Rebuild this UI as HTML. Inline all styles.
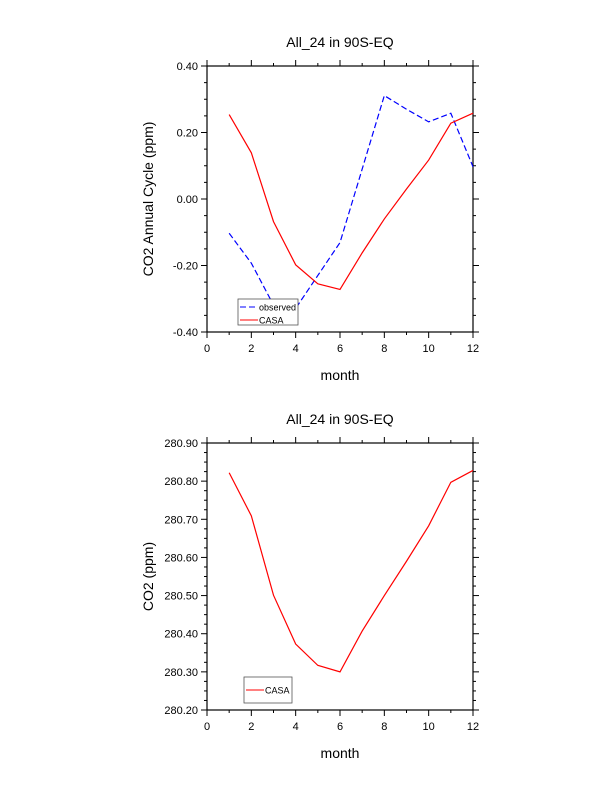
<!DOCTYPE html>
<html><head><meta charset="utf-8"><style>
body{margin:0;background:#fff}
svg{display:block;font-family:"Liberation Sans",Arial,sans-serif}
</style></head><body>
<svg id="s" width="612" height="792" xmlns="http://www.w3.org/2000/svg"></svg>
<script>
const months=[1,2,3,4,5,6,7,8,9,10,11,12];
const observed=[-0.103,-0.193,-0.319,-0.329,-0.23,-0.131,0.09,0.311,0.27,0.232,0.258,0.097];
const casaCycle=[0.254,0.139,-0.068,-0.198,-0.255,-0.272,-0.162,-0.06,0.03,0.117,0.228,0.258];
const casaCO2=[280.822,280.709,280.501,280.373,280.317,280.300,280.407,280.50,280.59,280.683,280.797,280.828];
const xTicks=[0,2,4,6,8,10,12];
const yTicks1=[-0.4,-0.2,0,0.2,0.4];
const yTicks2=[280.2,280.3,280.4,280.5,280.6,280.7,280.8,280.9];
const NS="http://www.w3.org/2000/svg";
const svg=document.getElementById('s');
function mk(t,a,p){const e=document.createElementNS(NS,t);for(const k in a)e.setAttribute(k,a[k]);(p||svg).appendChild(e);return e;}
function panel(name,top,bot,ymin,ymax,yTicks,yMinorStep,fmt,ytitle,series,legend){
  const g=mk('g',{});
  
  
  const L=207,R=473;
  const xs=v=>L+(R-L)*v/12, ys=v=>bot-(bot-top)*(v-ymin)/(ymax-ymin);
  // minor ticks
  for(let m=0;m<=12;m++){const x=xs(m);const len=m%2?3:6;
    mk('line',{x1:x,y1:bot,x2:x,y2:bot+len,stroke:'#000','stroke-width':1},g);
    mk('line',{x1:x,y1:top,x2:x,y2:top-len,stroke:'#000','stroke-width':1},g);}
  const n=Math.round((ymax-ymin)/yMinorStep);
  for(let i=0;i<=n;i++){const v=ymin+i*yMinorStep,y=ys(v);
    const major=yTicks.some(t=>Math.abs(t-v)<1e-6);const len=major?6:3;
    mk('line',{x1:L,y1:y,x2:L-len,y2:y,stroke:'#000','stroke-width':1},g);
    mk('line',{x1:R,y1:y,x2:R+len,y2:y,stroke:'#000','stroke-width':1},g);}
  mk('rect',{x:L,y:top,width:R-L,height:bot-top,fill:'none',stroke:'#000','stroke-width':1.2},g);
  xTicks.forEach(v=>{const t=mk('text',{x:xs(v),y:bot+20,'font-size':11,'text-anchor':'middle'},g);t.textContent=v;
    });
  yTicks.forEach(v=>{const t=mk('text',{x:L-9,y:ys(v)+4,'font-size':11,'text-anchor':'end'},g);t.textContent=fmt(v);
    });
  const tt=mk('text',{x:340,y:top-19,'font-size':14,'text-anchor':'middle'},g);tt.textContent='All_24 in 90S-EQ';
  
  const xt=mk('text',{x:340,y:bot+48,'font-size':14,'text-anchor':'middle'},g);xt.textContent='month';
  
  const yc=(top+bot)/2;
  const yt=mk('text',{x:153,y:yc,'font-size':14,'text-anchor':'middle',transform:`rotate(-90 153 ${yc})`},g);yt.textContent=ytitle;
  
  series.forEach(s=>{const p=mk('polyline',{points:months.map((m,i)=>xs(m)+','+ys(s.vals[i])).join(' '),fill:'none',stroke:s.color,'stroke-width':1.2,'stroke-dasharray':s.dash||'none'},g);
    });
  const lg=mk('g',{},g);
  
  
  mk('rect',{x:legend.x,y:legend.y,width:legend.w,height:legend.h,fill:'#fff',stroke:'#555','stroke-width':0.8},lg);
  legend.items.forEach((it,i)=>{const y=legend.y+8+i*13+(legend.items.length==1?5:0);
    mk('line',{x1:legend.x+2,y1:y,x2:legend.x+20,y2:y,stroke:it.color,'stroke-width':1,'stroke-dasharray':it.dash||'none'},lg);
    const t=mk('text',{x:legend.x+21,y:y+3.5,'font-size':9},lg);t.textContent=it.label;
    });
}
panel('top-panel',66,332,-0.4,0.4,yTicks1,0.05,v=>v.toFixed(2),'CO2 Annual Cycle (ppm)',
 [{name:'observed-line',vals:observed,color:'#0000ff',dash:'6 3'},{name:'casa-line',vals:casaCycle,color:'#ff0000'}],
 {x:238,y:299,w:60,h:26,items:[{label:'observed',color:'#0000ff',dash:'6 3'},{label:'CASA',color:'#ff0000'}]});
panel('bottom-panel',443,710,280.2,280.9,yTicks2,0.025,v=>v.toFixed(2),'CO2 (ppm)',
 [{name:'casa-co2-line',vals:casaCO2,color:'#ff0000'}],
 {x:244,y:677,w:48,h:26,items:[{label:'CASA',color:'#ff0000'}]});
</script>
</body></html>
